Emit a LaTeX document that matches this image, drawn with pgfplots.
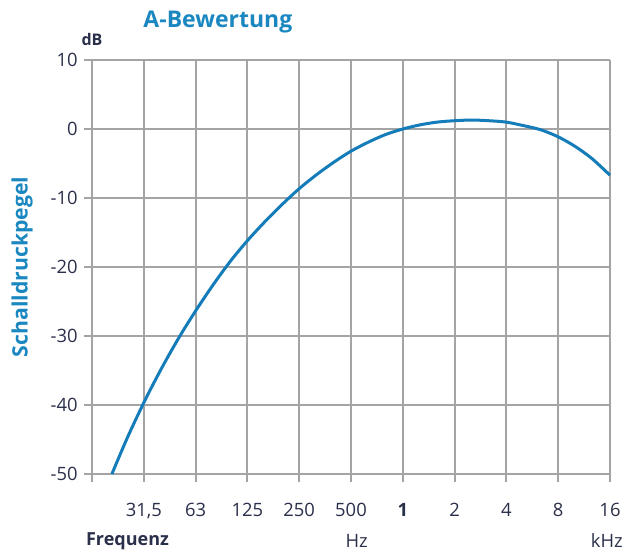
\documentclass[border=0pt]{standalone}
\usepackage{pgfplots}
\pgfplotsset{compat=1.18}
\usepackage{fontspec}
\setmainfont{Open Sans}
\definecolor{curveblue}{HTML}{147DB9}
\definecolor{titleblue}{HTML}{1A87C0}
\definecolor{navy}{HTML}{2A2F4A}
\definecolor{gridgray}{HTML}{A4A4A4}
\begin{document}
\begin{tikzpicture}
\useasboundingbox (-46pt,-38.5pt) rectangle (270pt,237pt);
\begin{axis}[
  at={(0,0)}, anchor=south west,
  scale only axis, width=259pt, height=207pt,
  xmin=0, xmax=10, ymin=-50, ymax=10,
  clip=false,
  axis line style={draw=none},
  xtick={0,1,2,3,4,5,6,7,8,9,10},
  xticklabels={{},{31,5},63,125,250,500,\textbf{1},2,4,8,16},
  ytick={-50,-40,-30,-20,-10,0,10},
  yticklabels={-50,-40,-30,-20,-10,0,10},
  xtick pos=bottom, ytick pos=left,
  tick align=outside,
  major tick length=4pt,
  major tick style={gridgray, line width=1pt},
  grid=major,
  major grid style={gridgray, line width=1pt},
  tick label style={font=\fontsize{9.2}{10}\selectfont, text=navy, inner sep=0pt},
  yticklabel style={xshift=-3pt},
  xticklabel style={yshift=-10.5pt},
]
\addplot[curveblue, line width=1.5pt, smooth, tension=0.5] coordinates {
(0.384,-50) (0.685,-44.7) (1.017,-39.4) (1.349,-34.6) (1.681,-30.2)
(2.014,-26.2) (2.346,-22.5) (2.678,-19.1) (3.010,-16.1) (3.342,-13.4)
(3.675,-10.9) (4.007,-8.6) (4.339,-6.6) (4.671,-4.8) (5.003,-3.2)
(5.336,-1.9) (5.668,-0.8) (6,0) (6.332,0.6) (6.664,1.0)
(6.997,1.2) (7.329,1.3) (7.661,1.2) (7.993,1.0) (8.325,0.5)
(8.658,-0.1) (8.990,-1.1) (9.322,-2.5) (9.654,-4.3) (10,-6.7)
};
\node[anchor=base, font=\fontsize{11.5}{12}\selectfont\bfseries, text=titleblue, inner sep=0pt] at (axis cs:2.43,14.78) {A-Bewertung};
\node[anchor=base, font=\fontsize{8}{9}\selectfont\bfseries, text=navy, inner sep=0pt] at (axis cs:0,12.1) {dB};
\node[anchor=center, rotate=90, font=\fontsize{10.6}{11}\selectfont\bfseries, text=titleblue, inner sep=0pt] at (axis cs:-1.351,-20) {Schalldruckpegel};
\node[anchor=base, font=\fontsize{9}{10}\selectfont\bfseries, text=navy, inner sep=0pt] at (axis cs:0.685,-60.4) {Frequenz};
\node[anchor=base, font=\fontsize{9.2}{10}\selectfont, text=navy, inner sep=0pt] at (axis cs:5.11,-60.6) {Hz};
\node[anchor=base, font=\fontsize{9.2}{10}\selectfont, text=navy, inner sep=0pt] at (axis cs:9.94,-60.6) {kHz};
\end{axis}
\end{tikzpicture}
\end{document}
